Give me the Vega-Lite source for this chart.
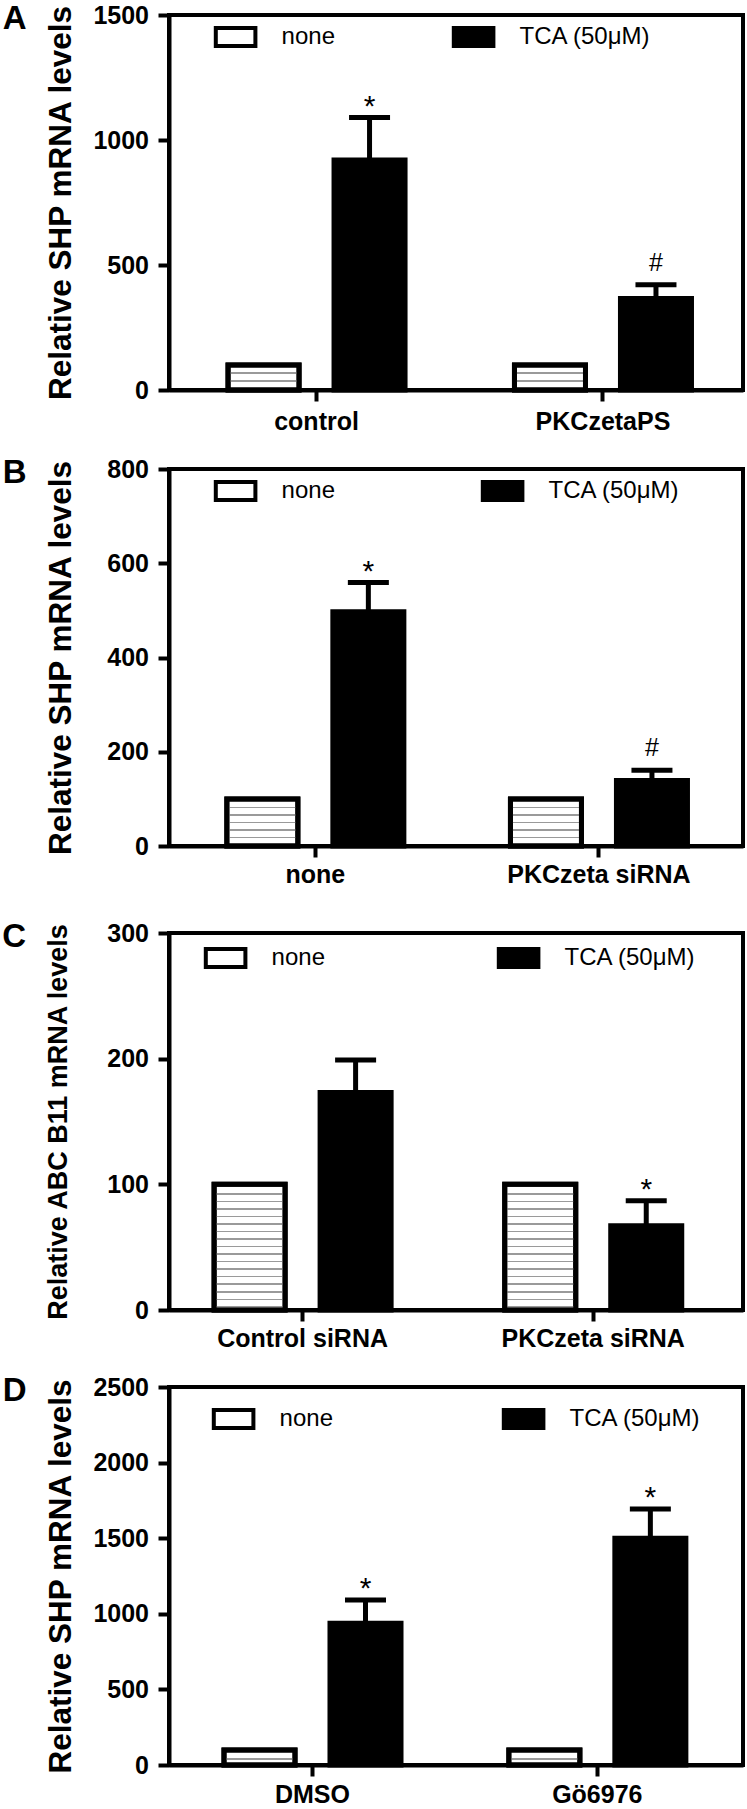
{
  "$schema": "https://vega.github.io/schema/vega-lite/v6.json",
  "background": "white",
  "padding": {"left": 0, "top": 1, "right": 3, "bottom": 0},
  "datasets": {
    "d": [
      {"panel": "A", "group": "control", "treatment": "none", "value": 100, "upper": null, "annot": ""},
      {"panel": "A", "group": "control", "treatment": "TCA (50μM)", "value": 920, "upper": 1090, "annot": "*"},
      {"panel": "A", "group": "PKCzetaPS", "treatment": "none", "value": 100, "upper": null, "annot": ""},
      {"panel": "A", "group": "PKCzetaPS", "treatment": "TCA (50μM)", "value": 366, "upper": 421, "annot": "#"},
      {"panel": "B", "group": "none", "treatment": "none", "value": 100, "upper": null, "annot": ""},
      {"panel": "B", "group": "none", "treatment": "TCA (50μM)", "value": 497, "upper": 559, "annot": "*"},
      {"panel": "B", "group": "PKCzeta siRNA", "treatment": "none", "value": 100, "upper": null, "annot": ""},
      {"panel": "B", "group": "PKCzeta siRNA", "treatment": "TCA (50μM)", "value": 139, "upper": 161, "annot": "#"},
      {"panel": "C", "group": "Control siRNA", "treatment": "none", "value": 100, "upper": null, "annot": ""},
      {"panel": "C", "group": "Control siRNA", "treatment": "TCA (50μM)", "value": 173, "upper": 199, "annot": ""},
      {"panel": "C", "group": "PKCzeta siRNA", "treatment": "none", "value": 100, "upper": null, "annot": ""},
      {"panel": "C", "group": "PKCzeta siRNA", "treatment": "TCA (50μM)", "value": 67, "upper": 87, "annot": "*"},
      {"panel": "D", "group": "DMSO", "treatment": "none", "value": 100, "upper": null, "annot": ""},
      {"panel": "D", "group": "DMSO", "treatment": "TCA (50μM)", "value": 937, "upper": 1091, "annot": "*"},
      {"panel": "D", "group": "Gö6976", "treatment": "none", "value": 100, "upper": null, "annot": ""},
      {"panel": "D", "group": "Gö6976", "treatment": "TCA (50μM)", "value": 1499, "upper": 1693, "annot": "*"}
    ]
  },
  "config": {
    "font": "Liberation Sans",
    "view": {"stroke": "black", "strokeWidth": 4},
    "axis": {"grid": false, "domainColor": "black", "domainWidth": 4, "tickColor": "black", "tickWidth": 4, "tickSize": 11, "labelColor": "black", "labelFont": "Liberation Sans", "labelFontWeight": "bold", "titleColor": "black", "titleFont": "Liberation Sans", "titleFontWeight": "bold", "labelPadding": 9.5, "labelLimit": 400},
    "axisX": {"labelAngle": 0, "labelFontSize": 25},
    "axisY": {"labelFontSize": 25, "titleFontSize": 31.5},
    "legend": {"orient": "none", "direction": "horizontal", "padding": 0, "symbolType": "M-2.2,-1H2.2V1H-2.2Z", "symbolSize": 324, "symbolStrokeColor": "black", "symbolStrokeWidth": 4, "labelFont": "Liberation Sans", "labelFontSize": 24, "labelColor": "black", "labelOffset": 34, "labelLimit": 400},
    "title": {"fontSize": 33, "fontWeight": "bold", "font": "Liberation Sans", "color": "black"},
    "tick": {"opacity": 1},
    "rule": {"opacity": 1}
  },
  "resolve": {"scale": {"fill": "independent"}, "legend": {"fill": "independent"}},
  "spacing": 30,
  "vconcat": [
    {
      "spacing": 19,
      "resolve": {"scale": {"fill": "independent"}, "legend": {"fill": "independent"}},
      "vconcat": [
        {
          "width": 574, "height": 375,
          "title": {"text": "A", "orient": "left", "anchor": "end", "angle": 0, "align": "left", "baseline": "top", "offset": 19},
          "data": {"name": "d"},
          "transform": [{"filter": "datum.panel === 'A'"}],
          "encoding": {
            "x": {"field": "group", "type": "nominal", "sort": null, "title": null, "scale": {"paddingInner": 0.382, "paddingOuter": 0.193, "align": 0.534}, "axis": {"labelPadding": 8}},
            "xOffset": {"field": "treatment", "type": "nominal", "sort": ["none", "TCA (50μM)"], "scale": {"paddingInner": 0.33, "paddingOuter": 0}}
          },
          "layer": [
            {"mark": {"type": "bar", "stroke": "black", "strokeWidth": 5},
             "encoding": {
               "y": {"field": "value", "type": "quantitative", "scale": {"domain": [0, 1500], "nice": false}, "axis": {"title": "Relative SHP mRNA levels", "values": [0, 500, 1000, 1500], "format": "d", "titlePadding": 15.4}},
               "fill": {"field": "treatment", "type": "nominal", "scale": {"domain": ["none", "TCA (50μM)"], "range": ["white", "black"]}, "legend": {"title": null, "legendX": 54.6, "legendY": 10, "columnPadding": 110}}
             }},
            {"transform": [{"filter": "datum.treatment === 'none'"}],
             "mark": {"type": "bar", "stroke": "black", "strokeWidth": 5,
               "fill": {"gradient": "linear", "x1": 0, "y1": 0, "x2": 0, "y2": 1, "stops": [
                 {"offset": 0, "color": "rgba(255,255,255,0)"},
                 {"offset": 0.29, "color": "rgba(255,255,255,0)"}, {"offset": 0.29, "color": "#9a9a9a"}, {"offset": 0.35, "color": "#9a9a9a"}, {"offset": 0.35, "color": "rgba(255,255,255,0)"},
                 {"offset": 0.61, "color": "rgba(255,255,255,0)"}, {"offset": 0.61, "color": "#9a9a9a"}, {"offset": 0.67, "color": "#9a9a9a"}, {"offset": 0.67, "color": "rgba(255,255,255,0)"},
                 {"offset": 1, "color": "rgba(255,255,255,0)"}]}},
             "encoding": {"y": {"field": "value", "type": "quantitative", "axis": {"title": "Relative SHP mRNA levels", "values": [0, 500, 1000, 1500], "format": "d", "titlePadding": 15.4}}}},
            {"transform": [{"filter": "datum.upper != null"}], "mark": {"type": "rule", "color": "black", "strokeWidth": 5},
             "encoding": {"y": {"field": "value", "type": "quantitative", "axis": {"title": "Relative SHP mRNA levels", "values": [0, 500, 1000, 1500], "format": "d", "titlePadding": 15.4}}, "y2": {"field": "upper"}}},
            {"transform": [{"filter": "datum.upper != null"}], "mark": {"type": "tick", "color": "black", "thickness": 5, "size": 41, "orient": "horizontal"},
             "encoding": {"y": {"field": "upper", "type": "quantitative", "axis": {"title": "Relative SHP mRNA levels", "values": [0, 500, 1000, 1500], "format": "d", "titlePadding": 15.4}}}},
            {"transform": [{"filter": "datum.annot === '*'"}], "mark": {"type": "text", "fontSize": 30, "dy": -2, "baseline": "alphabetic", "color": "black"},
             "encoding": {"y": {"field": "upper", "type": "quantitative", "axis": {"title": "Relative SHP mRNA levels", "values": [0, 500, 1000, 1500], "format": "d", "titlePadding": 15.4}}, "text": {"field": "annot"}}},
            {"transform": [{"filter": "datum.annot === '#'"}], "mark": {"type": "text", "fontSize": 25, "dy": -14, "baseline": "alphabetic", "color": "black"},
             "encoding": {"y": {"field": "upper", "type": "quantitative", "axis": {"title": "Relative SHP mRNA levels", "values": [0, 500, 1000, 1500], "format": "d", "titlePadding": 15.4}}, "text": {"field": "annot"}}}
          ]
        },
        {
          "width": 574, "height": 377,
          "title": {"text": "B", "orient": "left", "anchor": "end", "angle": 0, "align": "left", "baseline": "top", "offset": 19},
          "data": {"name": "d"},
          "transform": [{"filter": "datum.panel === 'B'"}],
          "encoding": {
            "x": {"field": "group", "type": "nominal", "sort": null, "title": null, "scale": {"paddingInner": 0.376, "paddingOuter": 0.2, "align": 0.51}, "axis": {"labelPadding": 5}},
            "xOffset": {"field": "treatment", "type": "nominal", "sort": ["none", "TCA (50μM)"], "scale": {"paddingInner": 0.33, "paddingOuter": 0}}
          },
          "layer": [
            {"mark": {"type": "bar", "stroke": "black", "strokeWidth": 5},
             "encoding": {
               "y": {"field": "value", "type": "quantitative", "scale": {"domain": [0, 800], "nice": false}, "axis": {"title": "Relative SHP mRNA levels", "values": [0, 200, 400, 600, 800], "format": "d", "titlePadding": 29.3}},
               "fill": {"field": "treatment", "type": "nominal", "scale": {"domain": ["none", "TCA (50μM)"], "range": ["white", "black"]}, "legend": {"title": null, "legendX": 54.6, "legendY": 10, "columnPadding": 139}}
             }},
            {"transform": [{"filter": "datum.treatment === 'none'"}],
             "mark": {"type": "bar", "stroke": "black", "strokeWidth": 5,
               "fill": {"gradient": "linear", "x1": 0, "y1": 0, "x2": 0, "y2": 1, "stops": [
                 {"offset": 0, "color": "rgba(255,255,255,0)"},
                 {"offset": 0.164, "color": "rgba(255,255,255,0)"}, {"offset": 0.164, "color": "#9a9a9a"}, {"offset": 0.196, "color": "#9a9a9a"}, {"offset": 0.196, "color": "rgba(255,255,255,0)"},
                 {"offset": 0.324, "color": "rgba(255,255,255,0)"}, {"offset": 0.324, "color": "#9a9a9a"}, {"offset": 0.356, "color": "#9a9a9a"}, {"offset": 0.356, "color": "rgba(255,255,255,0)"},
                 {"offset": 0.484, "color": "rgba(255,255,255,0)"}, {"offset": 0.484, "color": "#9a9a9a"}, {"offset": 0.516, "color": "#9a9a9a"}, {"offset": 0.516, "color": "rgba(255,255,255,0)"},
                 {"offset": 0.644, "color": "rgba(255,255,255,0)"}, {"offset": 0.644, "color": "#9a9a9a"}, {"offset": 0.676, "color": "#9a9a9a"}, {"offset": 0.676, "color": "rgba(255,255,255,0)"},
                 {"offset": 0.804, "color": "rgba(255,255,255,0)"}, {"offset": 0.804, "color": "#9a9a9a"}, {"offset": 0.836, "color": "#9a9a9a"}, {"offset": 0.836, "color": "rgba(255,255,255,0)"},
                 {"offset": 1, "color": "rgba(255,255,255,0)"}]}},
             "encoding": {"y": {"field": "value", "type": "quantitative", "axis": {"title": "Relative SHP mRNA levels", "values": [0, 200, 400, 600, 800], "format": "d", "titlePadding": 29.3}}}},
            {"transform": [{"filter": "datum.upper != null"}], "mark": {"type": "rule", "color": "black", "strokeWidth": 5},
             "encoding": {"y": {"field": "value", "type": "quantitative", "axis": {"title": "Relative SHP mRNA levels", "values": [0, 200, 400, 600, 800], "format": "d", "titlePadding": 29.3}}, "y2": {"field": "upper"}}},
            {"transform": [{"filter": "datum.upper != null"}], "mark": {"type": "tick", "color": "black", "thickness": 5, "size": 41, "orient": "horizontal"},
             "encoding": {"y": {"field": "upper", "type": "quantitative", "axis": {"title": "Relative SHP mRNA levels", "values": [0, 200, 400, 600, 800], "format": "d", "titlePadding": 29.3}}}},
            {"transform": [{"filter": "datum.annot === '*'"}], "mark": {"type": "text", "fontSize": 30, "dy": -2, "baseline": "alphabetic", "color": "black"},
             "encoding": {"y": {"field": "upper", "type": "quantitative", "axis": {"title": "Relative SHP mRNA levels", "values": [0, 200, 400, 600, 800], "format": "d", "titlePadding": 29.3}}, "text": {"field": "annot"}}},
            {"transform": [{"filter": "datum.annot === '#'"}], "mark": {"type": "text", "fontSize": 25, "dy": -14, "baseline": "alphabetic", "color": "black"},
             "encoding": {"y": {"field": "upper", "type": "quantitative", "axis": {"title": "Relative SHP mRNA levels", "values": [0, 200, 400, 600, 800], "format": "d", "titlePadding": 29.3}}, "text": {"field": "annot"}}}
          ]
        }
      ]
    },
    {
      "spacing": 20,
      "resolve": {"scale": {"fill": "independent"}, "legend": {"fill": "independent"}},
      "vconcat": [
        {
          "width": 574, "height": 377,
          "title": {"text": "C", "orient": "left", "anchor": "end", "angle": 0, "align": "left", "baseline": "top", "offset": 19},
          "data": {"name": "d"},
          "transform": [{"filter": "datum.panel === 'C'"}],
          "encoding": {
            "x": {"field": "group", "type": "nominal", "sort": null, "title": null, "scale": {"paddingInner": 0.391, "paddingOuter": 0.183, "align": 0.424}, "axis": {"labelPadding": 5}},
            "xOffset": {"field": "treatment", "type": "nominal", "sort": ["none", "TCA (50μM)"], "scale": {"paddingInner": 0.33, "paddingOuter": 0}}
          },
          "layer": [
            {"mark": {"type": "bar", "stroke": "black", "strokeWidth": 5},
             "encoding": {
               "y": {"field": "value", "type": "quantitative", "scale": {"domain": [0, 300], "nice": false}, "axis": {"title": "Relative ABC B11 mRNA levels", "titleFontSize": 27, "values": [0, 100, 200, 300], "format": "d", "titlePadding": 33.8}},
               "fill": {"field": "treatment", "type": "nominal", "scale": {"domain": ["none", "TCA (50μM)"], "range": ["white", "black"]}, "legend": {"title": null, "legendX": 44.6, "legendY": 13, "columnPadding": 165}}
             }},
            {"transform": [{"filter": "datum.treatment === 'none'"}],
             "mark": {"type": "bar", "stroke": "black", "strokeWidth": 5,
               "fill": {"gradient": "linear", "x1": 0, "y1": 0, "x2": 0, "y2": 1, "stops": [
                 {"offset": 0, "color": "rgba(255,255,255,0)"},
                 {"offset": 0.069, "color": "rgba(255,255,255,0)"}, {"offset": 0.069, "color": "#9a9a9a"}, {"offset": 0.081, "color": "#9a9a9a"}, {"offset": 0.081, "color": "rgba(255,255,255,0)"},
                 {"offset": 0.129, "color": "rgba(255,255,255,0)"}, {"offset": 0.129, "color": "#9a9a9a"}, {"offset": 0.141, "color": "#9a9a9a"}, {"offset": 0.141, "color": "rgba(255,255,255,0)"},
                 {"offset": 0.189, "color": "rgba(255,255,255,0)"}, {"offset": 0.189, "color": "#9a9a9a"}, {"offset": 0.201, "color": "#9a9a9a"}, {"offset": 0.201, "color": "rgba(255,255,255,0)"},
                 {"offset": 0.249, "color": "rgba(255,255,255,0)"}, {"offset": 0.249, "color": "#9a9a9a"}, {"offset": 0.261, "color": "#9a9a9a"}, {"offset": 0.261, "color": "rgba(255,255,255,0)"},
                 {"offset": 0.309, "color": "rgba(255,255,255,0)"}, {"offset": 0.309, "color": "#9a9a9a"}, {"offset": 0.321, "color": "#9a9a9a"}, {"offset": 0.321, "color": "rgba(255,255,255,0)"},
                 {"offset": 0.369, "color": "rgba(255,255,255,0)"}, {"offset": 0.369, "color": "#9a9a9a"}, {"offset": 0.381, "color": "#9a9a9a"}, {"offset": 0.381, "color": "rgba(255,255,255,0)"},
                 {"offset": 0.429, "color": "rgba(255,255,255,0)"}, {"offset": 0.429, "color": "#9a9a9a"}, {"offset": 0.441, "color": "#9a9a9a"}, {"offset": 0.441, "color": "rgba(255,255,255,0)"},
                 {"offset": 0.489, "color": "rgba(255,255,255,0)"}, {"offset": 0.489, "color": "#9a9a9a"}, {"offset": 0.501, "color": "#9a9a9a"}, {"offset": 0.501, "color": "rgba(255,255,255,0)"},
                 {"offset": 0.549, "color": "rgba(255,255,255,0)"}, {"offset": 0.549, "color": "#9a9a9a"}, {"offset": 0.561, "color": "#9a9a9a"}, {"offset": 0.561, "color": "rgba(255,255,255,0)"},
                 {"offset": 0.609, "color": "rgba(255,255,255,0)"}, {"offset": 0.609, "color": "#9a9a9a"}, {"offset": 0.621, "color": "#9a9a9a"}, {"offset": 0.621, "color": "rgba(255,255,255,0)"},
                 {"offset": 0.669, "color": "rgba(255,255,255,0)"}, {"offset": 0.669, "color": "#9a9a9a"}, {"offset": 0.681, "color": "#9a9a9a"}, {"offset": 0.681, "color": "rgba(255,255,255,0)"},
                 {"offset": 0.729, "color": "rgba(255,255,255,0)"}, {"offset": 0.729, "color": "#9a9a9a"}, {"offset": 0.741, "color": "#9a9a9a"}, {"offset": 0.741, "color": "rgba(255,255,255,0)"},
                 {"offset": 0.789, "color": "rgba(255,255,255,0)"}, {"offset": 0.789, "color": "#9a9a9a"}, {"offset": 0.801, "color": "#9a9a9a"}, {"offset": 0.801, "color": "rgba(255,255,255,0)"},
                 {"offset": 0.849, "color": "rgba(255,255,255,0)"}, {"offset": 0.849, "color": "#9a9a9a"}, {"offset": 0.861, "color": "#9a9a9a"}, {"offset": 0.861, "color": "rgba(255,255,255,0)"},
                 {"offset": 0.909, "color": "rgba(255,255,255,0)"}, {"offset": 0.909, "color": "#9a9a9a"}, {"offset": 0.921, "color": "#9a9a9a"}, {"offset": 0.921, "color": "rgba(255,255,255,0)"},
                 {"offset": 0.969, "color": "rgba(255,255,255,0)"}, {"offset": 0.969, "color": "#9a9a9a"}, {"offset": 0.981, "color": "#9a9a9a"}, {"offset": 0.981, "color": "rgba(255,255,255,0)"},
                 {"offset": 1, "color": "rgba(255,255,255,0)"}]}},
             "encoding": {"y": {"field": "value", "type": "quantitative", "axis": {"title": "Relative ABC B11 mRNA levels", "titleFontSize": 27, "values": [0, 100, 200, 300], "format": "d", "titlePadding": 33.8}}}},
            {"transform": [{"filter": "datum.upper != null"}], "mark": {"type": "rule", "color": "black", "strokeWidth": 5},
             "encoding": {"y": {"field": "value", "type": "quantitative", "axis": {"title": "Relative ABC B11 mRNA levels", "titleFontSize": 27, "values": [0, 100, 200, 300], "format": "d", "titlePadding": 33.8}}, "y2": {"field": "upper"}}},
            {"transform": [{"filter": "datum.upper != null"}], "mark": {"type": "tick", "color": "black", "thickness": 5, "size": 41, "orient": "horizontal"},
             "encoding": {"y": {"field": "upper", "type": "quantitative", "axis": {"title": "Relative ABC B11 mRNA levels", "titleFontSize": 27, "values": [0, 100, 200, 300], "format": "d", "titlePadding": 33.8}}}},
            {"transform": [{"filter": "datum.annot === '*'"}], "mark": {"type": "text", "fontSize": 30, "dy": -2, "baseline": "alphabetic", "color": "black"},
             "encoding": {"y": {"field": "upper", "type": "quantitative", "axis": {"title": "Relative ABC B11 mRNA levels", "titleFontSize": 27, "values": [0, 100, 200, 300], "format": "d", "titlePadding": 33.8}}, "text": {"field": "annot"}}}
          ]
        },
        {
          "width": 574, "height": 378,
          "title": {"text": "D", "orient": "left", "anchor": "end", "angle": 0, "align": "left", "baseline": "top", "offset": 19},
          "data": {"name": "d"},
          "transform": [{"filter": "datum.panel === 'D'"}],
          "encoding": {
            "x": {"field": "group", "type": "nominal", "sort": null, "title": null, "scale": {"paddingInner": 0.379, "paddingOuter": 0.197, "align": 0.49}, "axis": {"labelPadding": 6}},
            "xOffset": {"field": "treatment", "type": "nominal", "sort": ["none", "TCA (50μM)"], "scale": {"paddingInner": 0.33, "paddingOuter": 0}}
          },
          "layer": [
            {"mark": {"type": "bar", "stroke": "black", "strokeWidth": 5},
             "encoding": {
               "y": {"field": "value", "type": "quantitative", "scale": {"domain": [0, 2500], "nice": false}, "axis": {"title": "Relative SHP mRNA levels", "values": [0, 500, 1000, 1500, 2000, 2500], "format": "d", "titlePadding": 15.4}},
               "fill": {"field": "treatment", "type": "nominal", "scale": {"domain": ["none", "TCA (50μM)"], "range": ["white", "black"]}, "legend": {"title": null, "legendX": 52.6, "legendY": 20, "columnPadding": 162}}
             }},
            {"transform": [{"filter": "datum.treatment === 'none'"}],
             "mark": {"type": "bar", "stroke": "black", "strokeWidth": 5,
               "fill": {"gradient": "linear", "x1": 0, "y1": 0, "x2": 0, "y2": 1, "stops": [
                 {"offset": 0, "color": "rgba(255,255,255,0)"},
                 {"offset": 0.55, "color": "rgba(255,255,255,0)"}, {"offset": 0.55, "color": "#9a9a9a"}, {"offset": 0.66, "color": "#9a9a9a"}, {"offset": 0.66, "color": "rgba(255,255,255,0)"},
                 {"offset": 1, "color": "rgba(255,255,255,0)"}]}},
             "encoding": {"y": {"field": "value", "type": "quantitative", "axis": {"title": "Relative SHP mRNA levels", "values": [0, 500, 1000, 1500, 2000, 2500], "format": "d", "titlePadding": 15.4}}}},
            {"transform": [{"filter": "datum.upper != null"}], "mark": {"type": "rule", "color": "black", "strokeWidth": 5},
             "encoding": {"y": {"field": "value", "type": "quantitative", "axis": {"title": "Relative SHP mRNA levels", "values": [0, 500, 1000, 1500, 2000, 2500], "format": "d", "titlePadding": 15.4}}, "y2": {"field": "upper"}}},
            {"transform": [{"filter": "datum.upper != null"}], "mark": {"type": "tick", "color": "black", "thickness": 5, "size": 41, "orient": "horizontal"},
             "encoding": {"y": {"field": "upper", "type": "quantitative", "axis": {"title": "Relative SHP mRNA levels", "values": [0, 500, 1000, 1500, 2000, 2500], "format": "d", "titlePadding": 15.4}}}},
            {"transform": [{"filter": "datum.annot === '*'"}], "mark": {"type": "text", "fontSize": 30, "dy": -2, "baseline": "alphabetic", "color": "black"},
             "encoding": {"y": {"field": "upper", "type": "quantitative", "axis": {"title": "Relative SHP mRNA levels", "values": [0, 500, 1000, 1500, 2000, 2500], "format": "d", "titlePadding": 15.4}}, "text": {"field": "annot"}}}
          ]
        }
      ]
    }
  ]
}
